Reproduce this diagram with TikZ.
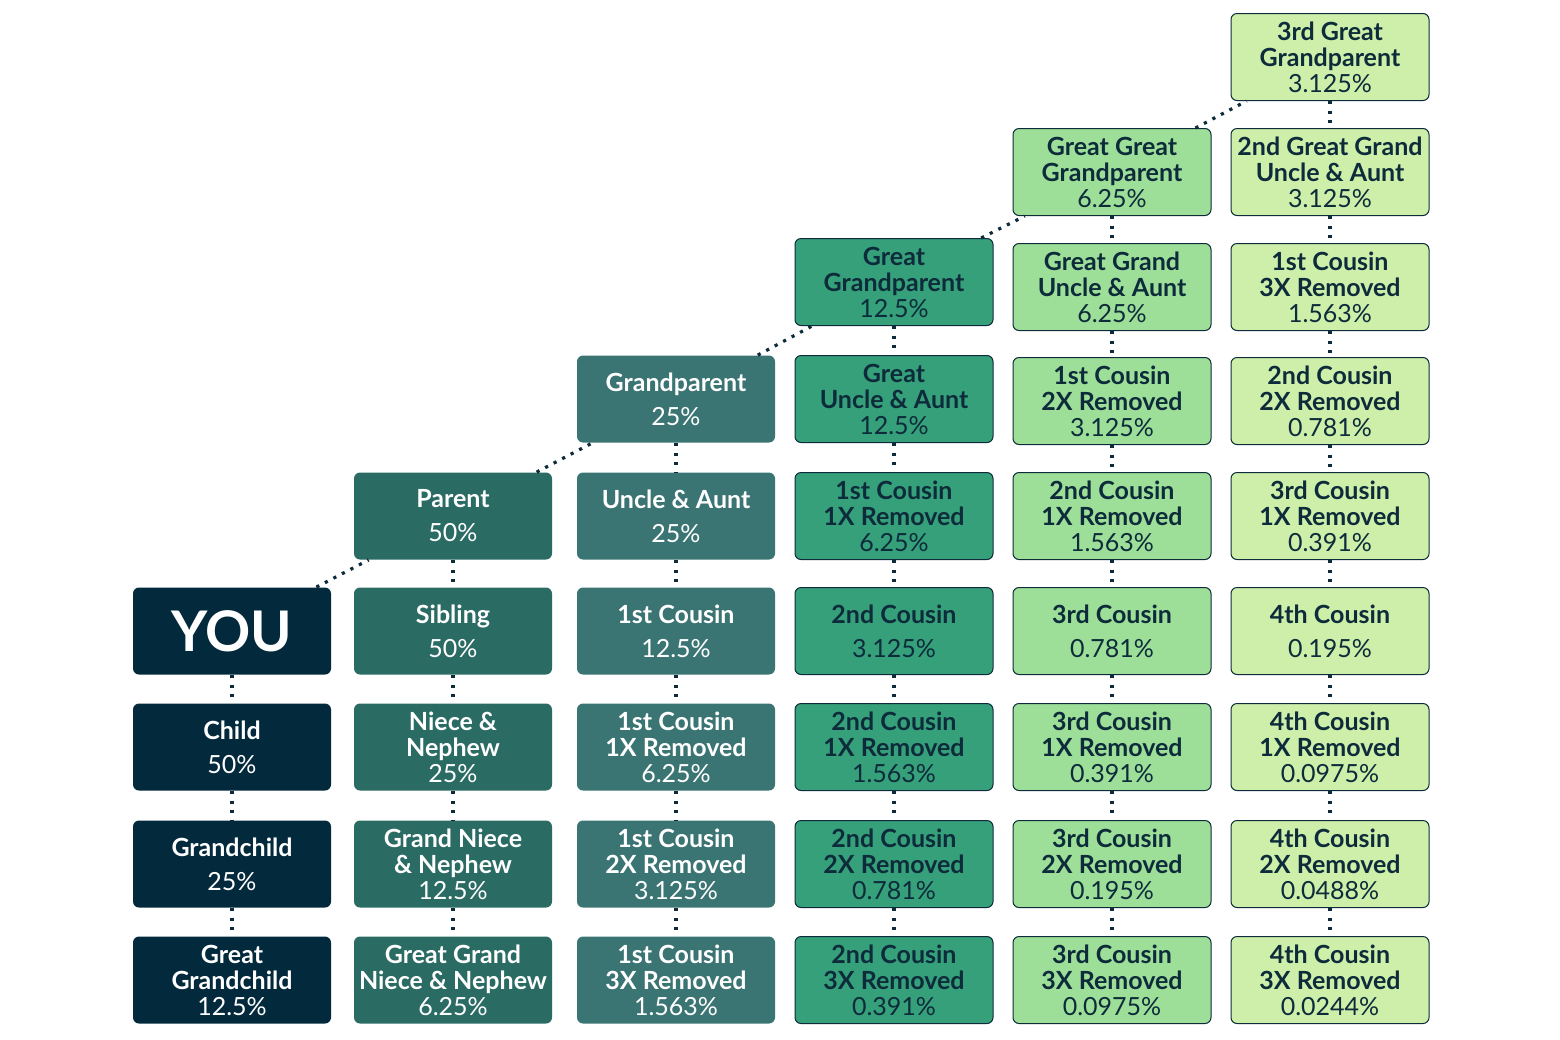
\documentclass[tikz,border=0pt]{standalone}
\usepackage{fontspec}
\setmainfont{Lato}
\begin{document}
\begin{tikzpicture}[x=0.5pt,y=-0.5pt,
  bx/.style={rounded corners=3pt,minimum width=99pt,minimum height=43.5pt,align=center,inner sep=1pt,font=\fontsize{12.5}{13}\selectfont},
  c0/.style={bx,fill=c0col,text=white},
  c1/.style={bx,fill=c1col,text=white},
  c2/.style={bx,fill=c2col,text=white},
  c3/.style={bx,fill=c3col,draw=linec,line width=0.5pt,text=linec},
  c4/.style={bx,fill=c4col,draw=linec,line width=0.5pt,text=linec},
  c5/.style={bx,fill=c5col,draw=linec,line width=0.5pt,text=linec},
  dl/.style={draw=linec,line width=1.6pt,dash pattern=on 1.6pt off 3.2pt}]
\definecolor{c0col}{HTML}{03293C}
\definecolor{c1col}{HTML}{2A6B64}
\definecolor{c2col}{HTML}{3A7473}
\definecolor{c3col}{HTML}{35A07A}
\definecolor{c4col}{HTML}{9DDF98}
\definecolor{c5col}{HTML}{CDEFA9}
\definecolor{linec}{HTML}{0D2B3A}
\useasboundingbox (0,0) rectangle (1560,1040);
\newcommand{\two}[2]{\textbf{#1}\\[4pt]#2}
\newcommand{\thr}[3]{\textbf{#1}\\\textbf{#2}\\#3}
% column 0
\node[c0] (you) at (232,631) {\fontsize{28}{30}\selectfont\textbf{YOU}};
\node[c0] (a1) at (232,747) {\two{Child}{50\%}};
\node[c0] (a2) at (232,864) {\two{Grandchild}{25\%}};
\node[c0] (a3) at (232,980) {\thr{Great}{Grandchild}{12.5\%}};
% column 1
\node[c1] (p) at (453,516) {\two{Parent}{50\%}};
\node[c1] (b0) at (453,631) {\two{Sibling}{50\%}};
\node[c1] (b1) at (453,747) {\thr{Niece \&}{Nephew}{25\%}};
\node[c1] (b2) at (453,864) {\thr{Grand Niece}{\& Nephew}{12.5\%}};
\node[c1] (b3) at (453,980) {\thr{Great Grand}{Niece \& Nephew}{6.25\%}};
% column 2
\node[c2] (gp) at (676,399) {\two{Grandparent}{25\%}};
\node[c2] (cA) at (676,516) {\two{Uncle \& Aunt}{25\%}};
\node[c2] (c0) at (676,631) {\two{1st Cousin}{12.5\%}};
\node[c2] (c1) at (676,747) {\thr{1st Cousin}{1X Removed}{6.25\%}};
\node[c2] (c2) at (676,864) {\thr{1st Cousin}{2X Removed}{3.125\%}};
\node[c2] (c3) at (676,980) {\thr{1st Cousin}{3X Removed}{1.563\%}};
% column 3
\node[c3] (ggp) at (894,282) {\thr{Great}{Grandparent}{12.5\%}};
\node[c3] (dA) at (894,399) {\thr{Great}{Uncle \& Aunt}{12.5\%}};
\node[c3] (dB) at (894,516) {\thr{1st Cousin}{1X Removed}{6.25\%}};
\node[c3] (d0) at (894,631) {\two{2nd Cousin}{3.125\%}};
\node[c3] (d1) at (894,747) {\thr{2nd Cousin}{1X Removed}{1.563\%}};
\node[c3] (d2) at (894,864) {\thr{2nd Cousin}{2X Removed}{0.781\%}};
\node[c3] (d3) at (894,980) {\thr{2nd Cousin}{3X Removed}{0.391\%}};
% column 4
\node[c4] (gggp) at (1112,172) {\thr{Great Great}{Grandparent}{6.25\%}};
\node[c4] (eA) at (1112,287) {\thr{Great Grand}{Uncle \& Aunt}{6.25\%}};
\node[c4] (eB) at (1112,401) {\thr{1st Cousin}{2X Removed}{3.125\%}};
\node[c4] (eC) at (1112,516) {\thr{2nd Cousin}{1X Removed}{1.563\%}};
\node[c4] (e0) at (1112,631) {\two{3rd Cousin}{0.781\%}};
\node[c4] (e1) at (1112,747) {\thr{3rd Cousin}{1X Removed}{0.391\%}};
\node[c4] (e2) at (1112,864) {\thr{3rd Cousin}{2X Removed}{0.195\%}};
\node[c4] (e3) at (1112,980) {\thr{3rd Cousin}{3X Removed}{0.0975\%}};
% column 5
\node[c5] (g4) at (1330,57) {\thr{3rd Great}{Grandparent}{3.125\%}};
\node[c5] (fA) at (1330,172) {\thr{2nd Great Grand}{Uncle \& Aunt}{3.125\%}};
\node[c5] (fB) at (1330,287) {\thr{1st Cousin}{3X Removed}{1.563\%}};
\node[c5] (fC) at (1330,401) {\thr{2nd Cousin}{2X Removed}{0.781\%}};
\node[c5] (fD) at (1330,516) {\thr{3rd Cousin}{1X Removed}{0.391\%}};
\node[c5] (f0) at (1330,631) {\two{4th Cousin}{0.195\%}};
\node[c5] (f1) at (1330,747) {\thr{4th Cousin}{1X Removed}{0.0975\%}};
\node[c5] (f2) at (1330,864) {\thr{4th Cousin}{2X Removed}{0.0488\%}};
\node[c5] (f3) at (1330,980) {\thr{4th Cousin}{3X Removed}{0.0244\%}};
% connectors
\path[dl] (you)--(p) (p)--(gp) (gp)--(ggp) (ggp)--(gggp) (gggp)--(g4);
\path[dl] (you)--(a1) (a1)--(a2) (a2)--(a3);
\path[dl] (p)--(b0) (b0)--(b1) (b1)--(b2) (b2)--(b3);
\path[dl] (gp)--(cA) (cA)--(c0) (c0)--(c1) (c1)--(c2) (c2)--(c3);
\path[dl] (ggp)--(dA) (dA)--(dB) (dB)--(d0) (d0)--(d1) (d1)--(d2) (d2)--(d3);
\path[dl] (gggp)--(eA) (eA)--(eB) (eB)--(eC) (eC)--(e0) (e0)--(e1) (e1)--(e2) (e2)--(e3);
\path[dl] (g4)--(fA) (fA)--(fB) (fB)--(fC) (fC)--(fD) (fD)--(f0) (f0)--(f1) (f1)--(f2) (f2)--(f3);
\end{tikzpicture}
\end{document}
